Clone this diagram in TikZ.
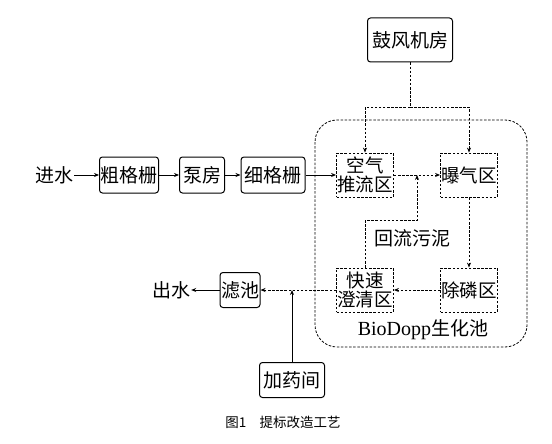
\documentclass[tikz,border=0pt]{standalone}
\usepackage{fontspec}
\setmainfont{Liberation Serif}
\newfontfamily\zh{Noto Sans CJK SC}
\usetikzlibrary{arrows.meta, positioning, calc}

\begin{document}
\begin{tikzpicture}[x=1pt, y=-1pt,
    box/.style={draw, rounded corners=3pt, line width=1pt, minimum height=36pt, inner xsep=1pt, font=\zh\fontsize{19}{21}\selectfont},
    zone/.style={draw, line width=0.8pt, dash pattern=on 2.5pt off 1.6pt, minimum width=57pt, minimum height=44pt, inner sep=0pt, align=center, font=\zh\fontsize{18.5}{19.5}\selectfont},
    lbl/.style={font=\zh\fontsize{19}{21}\selectfont, inner sep=1pt},
    flow/.style={line width=0.8pt, -{Stealth[length=5pt, width=4pt]}},
    air/.style={line width=0.8pt, dash pattern=on 2.5pt off 1.6pt, -{Stealth[length=5pt, width=4pt]}}]
  \useasboundingbox (0,0) rectangle (552,444);
  % Pretreatment line
  \node[lbl] (inflow) at (54,175) {进水};
  \node[box, minimum width=58pt] (coarse) at (129,175) {粗格栅};
  \node[box, minimum width=45pt] (pump) at (202,175) {泵房};
  \node[box, minimum width=64pt] (fine) at (273,175) {细格栅};
  \draw[flow] (inflow) -- (coarse);
  \draw[flow] (coarse) -- (pump);
  \draw[flow] (pump) -- (fine);
  % BioDopp tank
  \draw[line width=0.8pt, dash pattern=on 2.5pt off 1.6pt, rounded corners=22pt] (315,120) rectangle (527,347);
  \node[font=\fontsize{20}{22}\selectfont, inner sep=0pt] (tankname) at (423,330) {BioDopp{\zh\fontsize{19}{21}\selectfont 生化池}};
  \node[zone] (push) at (365,175) {空气\\推流区};
  \node[zone] (aer) at (469,175) {曝气区};
  \node[zone] (prem) at (469,290) {除磷区};
  \node[zone] (clar) at (365,290) {快速\\澄清区};
  \draw[flow] (fine) -- (push);
  \draw[air] (push) -- (aer);
  \draw[air] (aer) -- (prem);
  \draw[air] (prem) -- (clar);
  % Blower
  \node[box, minimum width=85pt, minimum height=44pt] (blower) at (410,40) {鼓风机房};
  \coordinate (split) at (410,107);
  \draw[line width=0.8pt, dash pattern=on 2.5pt off 1.6pt] (blower) -- (split);
  \draw[air] (split) -| (push.north);
  \draw[air] (split) -| (aer.north);
  % Return sludge
  \coordinate (ret) at (417,175);
  \draw[air] (clar.north) -- ++(0,-47) -| (ret);
  \node[lbl] (sludge) at (412,238) {回流污泥};
  % Effluent
  \node[box, minimum width=40pt, minimum height=35pt] (filt) at (240,290) {滤池};
  \node[lbl] (outflow) at (171,290) {出水};
  \draw[air] (clar) -- (filt);
  \draw[flow] (filt) -- (outflow);
  % Dosing
  \node[box, minimum width=65pt, minimum height=35pt] (dose) at (292,380) {加药间};
  \coordinate (dosein) at (292,290);
  \draw[flow] (dose) -- (dosein);
  % Caption
  \node[font=\zh\fontsize{13.5}{15}\selectfont] (caption) at (283,422) {图1\hspace{1em}提标改造工艺};
\end{tikzpicture}
\end{document}
